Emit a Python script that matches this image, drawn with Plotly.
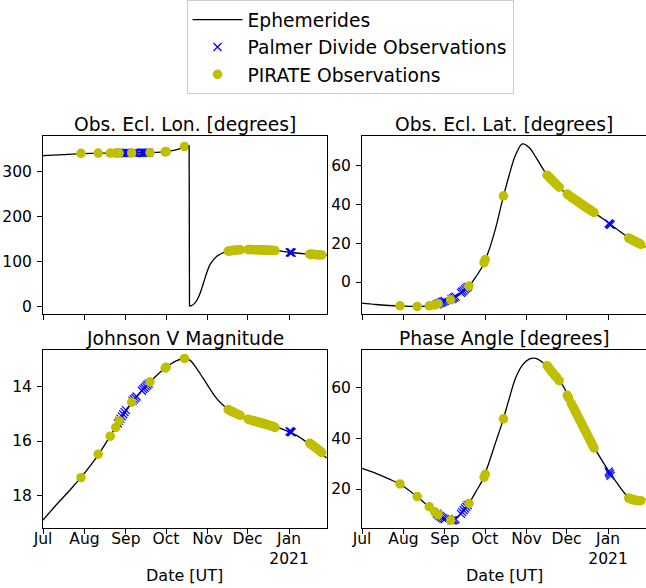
import plotly.graph_objects as go

# ---------------- ephemeris (common date grid) ----------------
eph_dates = ["2020-07-01", "2020-07-11", "2020-07-21", "2020-07-31", "2020-08-10",
             "2020-08-20", "2020-08-30", "2020-09-04", "2020-09-09", "2020-09-14",
             "2020-09-19", "2020-09-24", "2020-09-29", "2020-10-04", "2020-10-09",
             "2020-10-14", "2020-10-19", "2020-10-24", "2020-10-29", "2020-11-03",
             "2020-11-08", "2020-11-13", "2020-11-18", "2020-11-28", "2020-12-08",
             "2020-12-18", "2020-12-28", "2021-01-07", "2021-01-17", "2021-01-22",
             "2021-01-29"]
eph_lat = [-10.9, -11.6, -12.1, -12.4, -12.55, -12.3, -10.3, -9.3, -7.5, -5.0,
           -2.1, 2.5, 8.0, 16.5, 28.0, 42.0, 55.0, 65.8, 71.3, 69.5,
           64.5, 58.8, 53.8, 47.3, 42.0, 37.3, 32.8, 27.6, 22.6, 20.8, 18.0]
eph_mag = [18.89, 18.33, 17.80, 17.24, 16.60, 15.84, 15.02, 14.67, 14.37, 14.10,
           13.84, 13.60, 13.38, 13.20, 13.06, 12.98, 13.05, 13.35, 13.72, 14.10,
           14.45, 14.70, 14.88, 15.14, 15.30, 15.43, 15.58, 15.80, 16.14, 16.30, 16.62]
eph_phase = [28.2, 26.3, 24.0, 21.4, 17.5, 13.0, 8.6, 7.7, 8.2, 10.9,
             14.3, 18.8, 23.4, 30.5, 38.5, 46.4, 55.5, 64.0, 68.9, 71.3,
             71.6, 70.1, 67.4, 61.0, 50.0, 39.8, 30.8, 22.9, 16.4, 15.5, 15.9]

# ecliptic longitude wraps through 360 -> 0 in mid October
lon_dates_a = ["2020-07-01", "2020-07-16", "2020-07-31", "2020-08-15", "2020-08-30",
               "2020-09-14", "2020-09-24", "2020-09-29", "2020-10-04", "2020-10-09",
               "2020-10-13", "2020-10-16", "2020-10-18 07:00"]
lon_vals_a = [335.5, 337.8, 339.8, 340.8, 341.3, 341.8, 342.7, 343.8, 346.0, 349.0,
              352.5, 355.8, 358.5]
lon_dates_b = ["2020-10-18 14:00", "2020-10-20", "2020-10-22", "2020-10-24", "2020-10-26",
               "2020-10-28", "2020-10-30", "2020-11-01", "2020-11-03", "2020-11-08",
               "2020-11-13", "2020-11-18", "2020-11-26", "2020-12-03", "2020-12-13",
               "2020-12-23", "2021-01-02", "2021-01-15", "2021-01-29 10:00"]
lon_vals_b = [1.0, 2.5, 6.5, 14.0, 26.0, 43.0, 62.0, 80.0, 94.0, 112.0,
              120.0, 124.3, 126.5, 127.0, 126.0, 124.5, 120.5, 117.0, 114.7]

# ---------------- PIRATE observations ----------------
pir_dates = ["2020-07-29 10:00", "2020-08-11 07:00", "2020-08-20 07:00", "2020-08-24 10:00",
             "2020-08-27", "2020-09-05 07:00", "2020-09-19", "2020-09-30 07:00",
             "2020-10-01 05:00", "2020-10-14 19:00",
             "2020-11-16 12:00", "2020-11-17 12:00", "2020-11-18 12:00", "2020-11-19 12:00",
             "2020-11-20 12:00", "2020-11-22", "2020-11-23 12:00", "2020-11-25 12:00",
             "2020-12-01 12:00", "2020-12-02 12:00", "2020-12-04 12:00", "2020-12-05 12:00",
             "2020-12-06 12:00", "2020-12-07 12:00", "2020-12-08 12:00", "2020-12-09 12:00",
             "2020-12-10 12:00", "2020-12-11 12:00", "2020-12-12 12:00", "2020-12-13 12:00",
             "2020-12-14 12:00", "2020-12-15 12:00", "2020-12-16 12:00", "2020-12-17 12:00",
             "2020-12-18 12:00", "2020-12-19 12:00", "2020-12-20 12:00", "2020-12-21 12:00",
             "2021-01-16 12:00", "2021-01-17 12:00", "2021-01-18 12:00", "2021-01-19 12:00",
             "2021-01-20 12:00", "2021-01-21 12:00", "2021-01-22 12:00", "2021-01-23 12:00",
             "2021-01-24 12:00", "2021-01-25 12:00"]
pir_lon = [340.5, 341.0, 341.0, 341.0, 341.2, 341.5, 342.0, 344.0, 344.3, 355.5,
           123.5, 124.0, 124.5, 125.0, 125.3, 125.8, 126.2, 126.5,
           127.0, 127.0, 126.9, 126.8, 126.7, 126.6, 126.5, 126.4, 126.3, 126.2,
           126.0, 125.9, 125.8, 125.6, 125.5, 125.4, 125.2, 125.1, 124.9, 124.8,
           116.8, 116.6, 116.4, 116.2, 116.0, 115.8, 115.6, 115.4, 115.2, 115.0]
pir_lat = [-12.3, -12.6, -12.3, -11.8, -11.2, -9.2, -2.1, 10.0, 11.6, 44.5,
           55.2, 54.5, 53.8, 53.1, 52.4, 51.3, 50.3, 49.0,
           45.4, 44.9, 43.9, 43.4, 42.9, 42.4, 42.0, 41.5, 41.0, 40.5,
           40.0, 39.6, 39.1, 38.6, 38.2, 37.7, 37.3, 36.8, 36.3, 35.9,
           22.7, 22.3, 22.0, 21.6, 21.3, 20.9, 20.6, 20.2, 19.9, 19.5]
pir_mag = [17.34, 16.48, 15.82, 15.50, 15.26, 14.58, 13.84, 13.33, 13.30, 12.98,
           14.85, 14.87, 14.90, 14.92, 14.95, 14.98, 15.02, 15.06,
           15.20, 15.22, 15.25, 15.26, 15.27, 15.29, 15.30, 15.31, 15.33, 15.34,
           15.35, 15.37, 15.38, 15.40, 15.41, 15.43, 15.44, 15.46, 15.48, 15.50,
           16.08, 16.12, 16.15, 16.19, 16.23, 16.26, 16.30, 16.34, 16.38, 16.42]
pir_phase = [22.0, 17.0, 13.0, 11.0, 9.9, 7.7, 14.3, 24.6, 25.8, 47.7,
             68.7, 68.0, 67.3, 66.6, 66.0, 65.0, 64.2, 62.8,
             57.0, 56.0, 53.8, 52.8, 51.8, 50.7, 49.7, 48.7, 47.6, 46.6,
             45.5, 44.5, 43.5, 42.5, 41.4, 40.4, 39.3, 38.3, 37.2, 36.2,
             16.4, 16.2, 16.0, 15.9, 15.7, 15.6, 15.5, 15.5, 15.4, 15.4]

# ---------------- Palmer Divide observations ----------------
pdo_dates = ["2020-08-26", "2020-08-27", "2020-08-28", "2020-08-29", "2020-08-30",
             "2020-08-31", "2020-09-01", "2020-09-06", "2020-09-07", "2020-09-08",
             "2020-09-09", "2020-09-13", "2020-09-14", "2020-09-15", "2020-09-16",
             "2020-09-17", "2020-09-18", "2021-01-01 12:00", "2021-01-02",
             "2021-01-02 12:00", "2021-01-03"]
pdo_lon = [341.3, 341.3, 341.3, 341.3, 341.3, 341.3, 341.3, 341.5, 341.5, 341.5,
           341.5, 341.8, 341.8, 341.8, 341.8, 341.8, 341.8, 120.8, 120.6, 120.4, 120.2]
pdo_lat = [-11.5, -11.2, -10.9, -10.6, -10.3, -10.0, -9.7, -8.8, -8.4, -8.0,
           -7.5, -5.6, -5.0, -4.4, -3.8, -3.1, -2.5, 30.3, 30.0, 29.8, 29.5]
pdo_mag = [15.35, 15.26, 15.18, 15.10, 15.02, 14.94, 14.87, 14.53, 14.47, 14.42,
           14.37, 14.16, 14.10, 14.05, 14.00, 13.95, 13.90, 15.64, 15.65, 15.67, 15.68]
pdo_phase = [10.3, 9.9, 9.4, 9.0, 8.6, 8.3, 8.1, 7.6, 7.6, 7.8,
             8.1, 10.2, 10.9, 11.6, 12.3, 13.0, 13.7, 26.9, 26.3, 25.8, 25.2]

# ---------------- axes text ----------------
panel_titles = ["Obs. Ecl. Lon. [degrees]", "Obs. Ecl. Lat. [degrees]",
                "Johnson V Magnitude", "Phase Angle [degrees]"]
month_ticks = ["2020-07-01", "2020-08-01", "2020-09-01", "2020-10-01",
               "2020-11-01", "2020-12-01", "2021-01-01"]
month_labels = ["Jul", "Aug", "Sep", "Oct", "Nov", "Dec", "Jan<br>2021"]
x_label = "Date [UT]"

FONT = "DejaVu Sans"
EPH_COLOR = "black"
PDO_COLOR = "#0000ff"
PIR_COLOR = "#bfbf00"

W, H = 646, 588
x_doms = [[43 / W, 327 / W], [362 / W, 1.0]]
y_doms = [[1 - 314 / H, 1 - 136 / H], [1 - 528 / H, 1 - 350 / H]]

fig = go.Figure()


def add_panel(idx, eph_x, eph_y, pdo_y, pir_y, first):
    xa = "x" if idx == 1 else f"x{idx}"
    ya = "y" if idx == 1 else f"y{idx}"
    fig.add_trace(go.Scatter(x=eph_x, y=eph_y, mode="lines", name="Ephemerides",
                             line=dict(color=EPH_COLOR, width=1.3, shape="spline"),
                             xaxis=xa, yaxis=ya, showlegend=first,
                             legendgroup="eph", connectgaps=False))
    fig.add_trace(go.Scatter(x=pdo_dates, y=pdo_y, mode="markers",
                             name="Palmer Divide Observations",
                             marker=dict(symbol="x-thin", size=8,
                                         line=dict(color=PDO_COLOR, width=1.2),
                                         color=PDO_COLOR),
                             xaxis=xa, yaxis=ya, showlegend=first, legendgroup="pdo"))
    fig.add_trace(go.Scatter(x=pir_dates, y=pir_y, mode="markers",
                             name="PIRATE Observations",
                             marker=dict(symbol="circle", size=9.5, color=PIR_COLOR,
                                         line=dict(width=0)),
                             xaxis=xa, yaxis=ya, showlegend=first, legendgroup="pir"))


# longitude: two spline pieces split at the 360 -> 0 wrap
lon_x = lon_dates_a + [None] + lon_dates_b
lon_y = lon_vals_a + [None] + lon_vals_b
add_panel(1, lon_x, lon_y, pdo_lon, pir_lon, True)
# vertical connector at the wrap
fig.add_trace(go.Scatter(x=[lon_dates_a[-1], lon_dates_b[0]], y=[lon_vals_a[-1], lon_vals_b[0]],
                         mode="lines", line=dict(color=EPH_COLOR, width=1.3),
                         xaxis="x", yaxis="y", showlegend=False))
add_panel(2, eph_dates, eph_lat, pdo_lat, pir_lat, False)
add_panel(3, eph_dates, eph_mag, pdo_mag, pir_mag, False)
add_panel(4, eph_dates, eph_phase, pdo_phase, pir_phase, False)

axis_common = dict(showline=True, linecolor="black", linewidth=1, mirror=True,
                   ticks="outside", ticklen=5, tickwidth=1, tickcolor="black",
                   showgrid=False, zeroline=False, automargin=False,
                   tickfont=dict(family=FONT, size=15.5, color="black"))

x_range = ["2020-07-01", "2021-01-29 10:00"]
y_specs = [
    dict(range=[-16, 379], tickvals=[0, 100, 200, 300]),
    dict(range=[-16.5, 75.4], tickvals=[0, 20, 40, 60]),
    dict(range=[19.18, 12.67], tickvals=[14, 16, 18]),
    dict(range=[4.6, 74.9], tickvals=[20, 40, 60]),
]

layout = {}
for i in range(4):
    n = i + 1
    col = i % 2
    row = i // 2
    xkey = "xaxis" if n == 1 else f"xaxis{n}"
    ykey = "yaxis" if n == 1 else f"yaxis{n}"
    ya = "y" if n == 1 else f"y{n}"
    xa = "x" if n == 1 else f"x{n}"
    layout[xkey] = dict(axis_common, type="date", range=x_range, domain=x_doms[col],
                        anchor=ya, tickvals=month_ticks, ticktext=month_labels,
                        showticklabels=(row == 1), ticklabelstandoff=-9)
    layout[ykey] = dict(axis_common, domain=y_doms[row], anchor=xa,
                        ticklabelstandoff=2, **y_specs[i])

annotations = []
for i, t in enumerate(panel_titles):
    col = i % 2
    row = i // 2
    annotations.append(dict(text=t, xref="paper", yref="paper",
                            x=(x_doms[col][0] + x_doms[col][1]) / 2,
                            y=y_doms[row][1], xanchor="center", yanchor="bottom",
                            yshift=-1, showarrow=False,
                            font=dict(family=FONT, size=18.7, color="black")))
for col in range(2):
    cx = (x_doms[col][0] + x_doms[col][1]) / 2
    annotations.append(dict(text=x_label, xref="paper", yref="paper", x=cx,
                            y=1 - 575 / H, xanchor="center", yanchor="middle",
                            showarrow=False,
                            font=dict(family=FONT, size=16, color="black")))

fig.update_layout(
    width=W, height=H,
    margin=dict(l=0, r=0, t=0, b=0, autoexpand=False),
    paper_bgcolor="white", plot_bgcolor="white",
    font=dict(family=FONT, color="black"),
    annotations=annotations,
    legend=dict(x=350 / W, y=1.0, xanchor="center", yanchor="top",
                bgcolor="white", bordercolor="#cccccc", borderwidth=1,
                font=dict(family=FONT, size=18.7, color="black"),
                traceorder="grouped", tracegroupgap=0, itemwidth=50),
    **layout,
)

fig.write_html("out.html")
